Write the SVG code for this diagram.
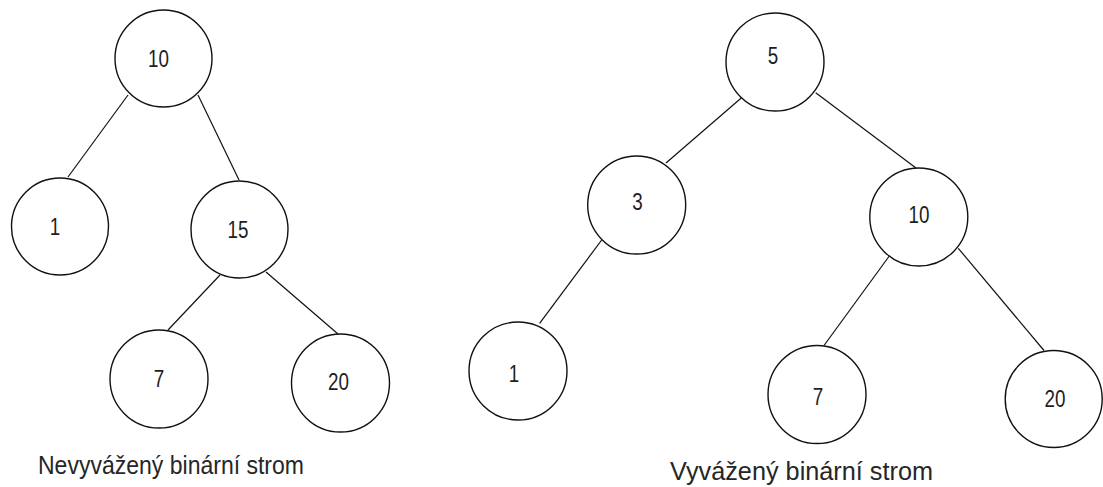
<svg xmlns="http://www.w3.org/2000/svg" width="1103" height="487" viewBox="0 0 1103 487">
  <style>
    .node circle { fill: #ffffff; stroke: #111111; stroke-width: 1.4; }
    .node text { font-family: "Liberation Sans", Arial, sans-serif; font-size: 23.5px; fill: #1e1e1e; text-anchor: middle; }
    .edges line { stroke: #111111; stroke-width: 1.2; }
    .caption { font-family: "Liberation Sans", Arial, sans-serif; fill: #262626; }
  </style>
  <rect width="1103" height="487" fill="#ffffff"/>

  <!-- edges -->
  <g id="connectors" class="edges">
    <!-- unbalanced tree -->
    <line x1="128" y1="95" x2="68" y2="177"/>
    <line x1="198" y1="95" x2="239" y2="180"/>
    <line x1="220" y1="275" x2="168" y2="330"/>
    <line x1="266" y1="272" x2="338" y2="334"/>
    <!-- balanced tree -->
    <line x1="742.7" y1="96.7" x2="666" y2="163"/>
    <line x1="815.7" y1="92.7" x2="916" y2="168"/>
    <line x1="601.7" y1="240" x2="539.6" y2="323.3"/>
    <line x1="889.3" y1="256" x2="824" y2="345.5"/>
    <line x1="958.3" y1="248.3" x2="1044" y2="350.5"/>
  </g>

  <!-- unbalanced tree nodes -->
  <g id="u10" class="node">
    <circle cx="163.5" cy="58.5" r="48.5"/>
    <text transform="translate(158.5,66.7) scale(0.8,1)">10</text>
  </g>
  <g id="u1" class="node">
    <circle cx="60" cy="226.5" r="48.5"/>
    <text transform="translate(55,235) scale(0.8,1)">1</text>
  </g>
  <g id="u15" class="node">
    <circle cx="239.5" cy="229.5" r="48.5"/>
    <text transform="translate(238,237.7) scale(0.8,1)">15</text>
  </g>
  <g id="u7" class="node">
    <circle cx="159" cy="379" r="49"/>
    <text transform="translate(159,386.7) scale(0.8,1)">7</text>
  </g>
  <g id="u20" class="node">
    <circle cx="340.5" cy="383" r="49"/>
    <text transform="translate(338.5,390) scale(0.8,1)">20</text>
  </g>

  <!-- balanced tree nodes -->
  <g id="b5" class="node">
    <circle cx="775" cy="62" r="49"/>
    <text transform="translate(773,64.3) scale(0.8,1)">5</text>
  </g>
  <g id="b3" class="node">
    <circle cx="636.7" cy="205" r="49"/>
    <text transform="translate(637.5,210) scale(0.8,1)">3</text>
  </g>
  <g id="b10" class="node">
    <circle cx="918.8" cy="217" r="49"/>
    <text transform="translate(919,222.7) scale(0.8,1)">10</text>
  </g>
  <g id="b1" class="node">
    <circle cx="518" cy="371" r="49"/>
    <text transform="translate(514,381.7) scale(0.8,1)">1</text>
  </g>
  <g id="b7" class="node">
    <circle cx="817" cy="394.5" r="49"/>
    <text transform="translate(818,405) scale(0.8,1)">7</text>
  </g>
  <g id="b20" class="node">
    <circle cx="1053.7" cy="399" r="48.5"/>
    <text transform="translate(1055,406.7) scale(0.8,1)">20</text>
  </g>

  <!-- captions -->
  <g id="caption-unbalanced">
    <text class="caption" x="38" y="474" font-size="25" textLength="266" lengthAdjust="spacingAndGlyphs">Nevyvážený binární strom</text>
  </g>
  <g id="caption-balanced">
    <text class="caption" x="670" y="480" font-size="25.5" textLength="263" lengthAdjust="spacingAndGlyphs">Vyvážený binární strom</text>
  </g>
</svg>
